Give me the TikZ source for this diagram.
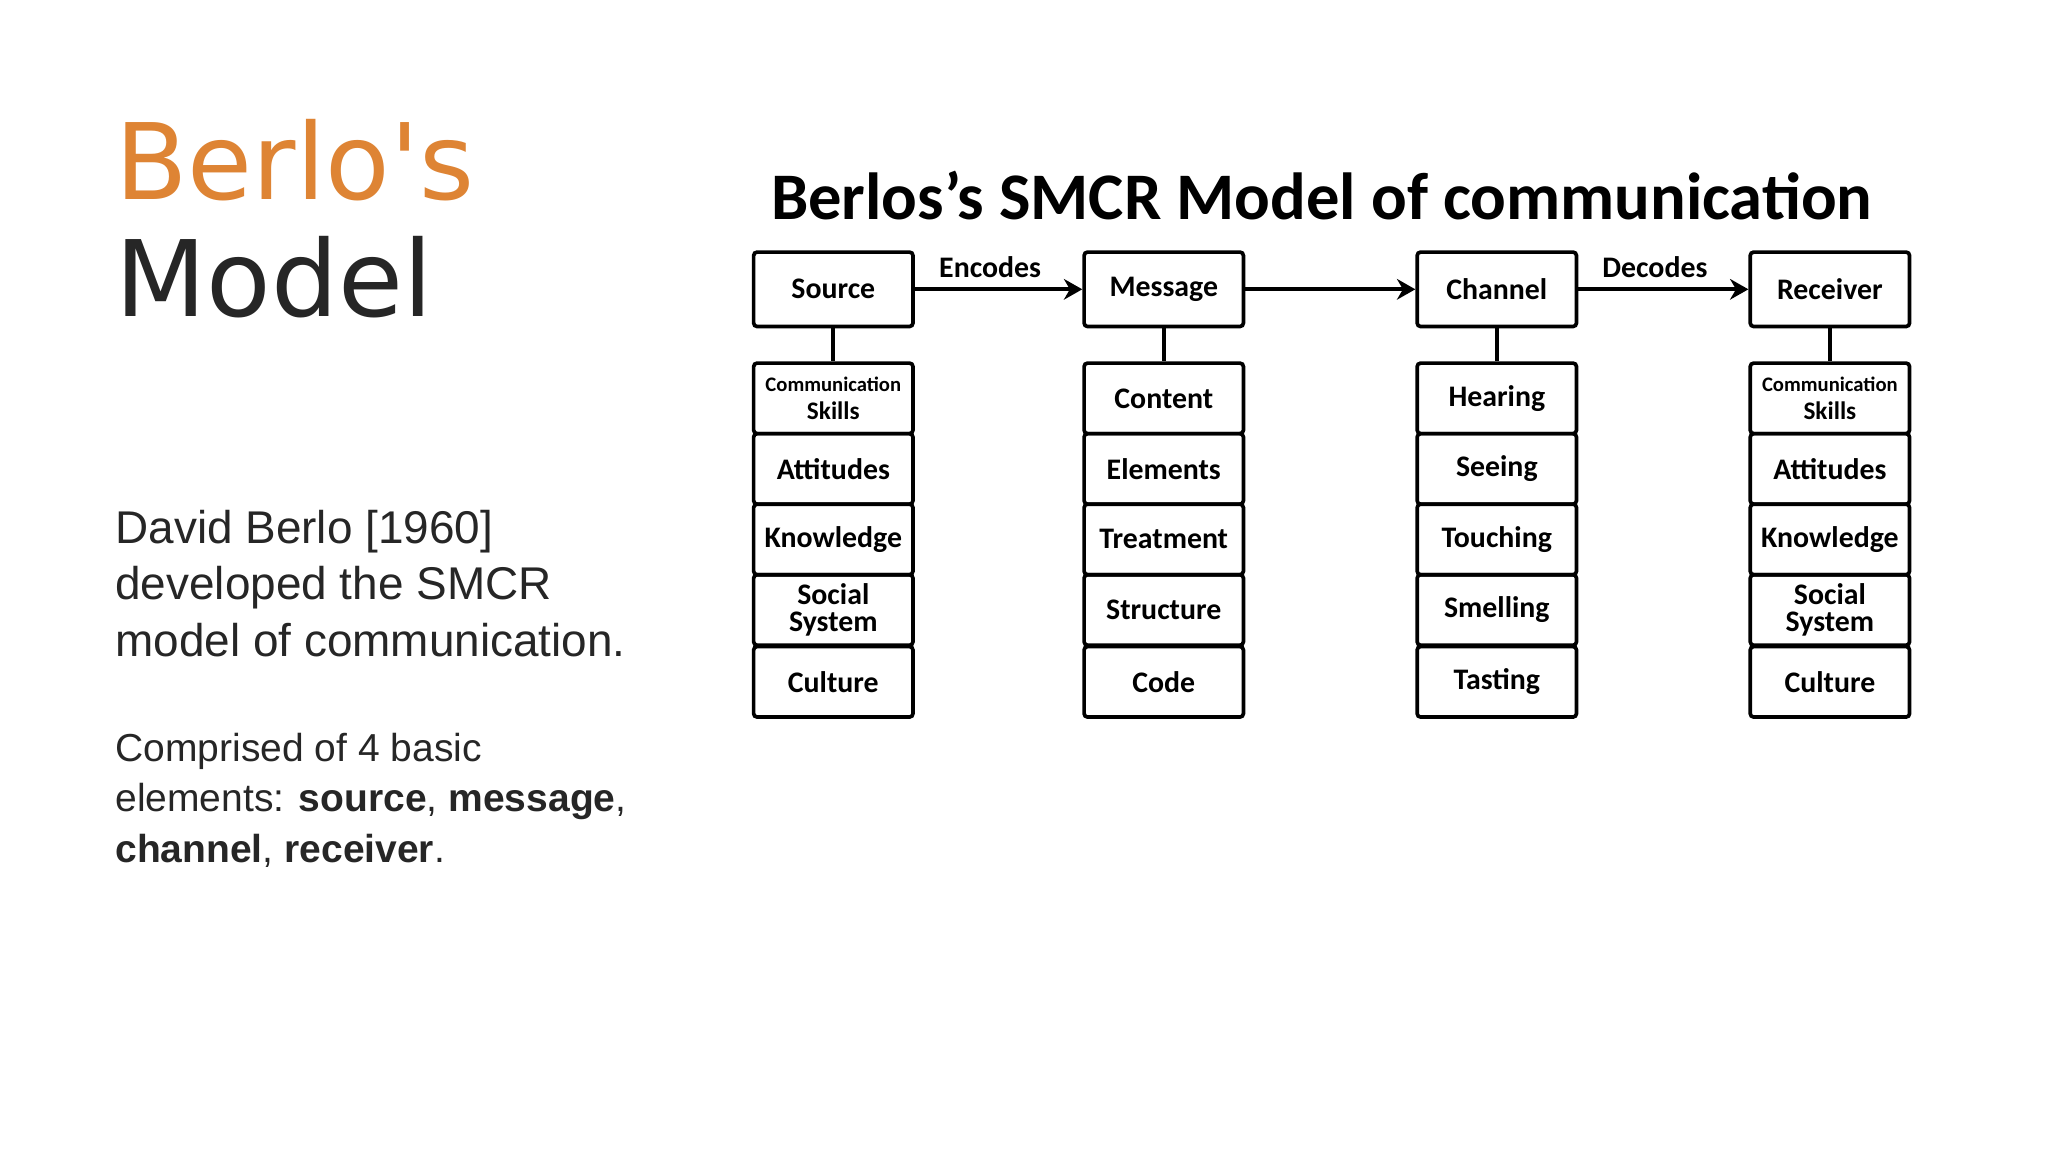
\documentclass[tikz,border=0pt]{standalone}
\usepackage{fontspec}
\setmainfont{Liberation Sans}
\newfontfamily\headfont{DejaVu Sans}
\newfontfamily\boxfont{Carlito}
\usetikzlibrary{arrows.meta}
\definecolor{orng}{RGB}{222,132,52}
\definecolor{dark}{RGB}{38,38,38}
\tikzset{
  cell/.style={draw=black,line width=1.6pt,rounded corners=1.5pt,minimum width=2.44cm,font=\boxfont\bfseries\fontsize{13}{12}\selectfont,align=center,inner sep=0pt},
  top/.style={cell,minimum height=1.14cm},
  sub/.style={cell,minimum height=1.08cm},
  conn/.style={line width=1.6pt},
  flow/.style={line width=1.8pt,-{Stealth[length=8pt,width=9pt]}},
  lbl/.style={font=\boxfont\bfseries\fontsize{13}{12}\selectfont,anchor=south}
}
\begin{document}
\begin{tikzpicture}[x=0.02cm,y=-0.02cm]
\useasboundingbox (0,0) rectangle (1568,882);
\fill[white] (0,0) rectangle (1568,882);
\node[anchor=base west,inner sep=0,text=orng,font=\headfont\fontsize{46}{46}\selectfont] (h1) at (88,153) {Berlo's};
\node[anchor=base west,inner sep=0,text=dark,font=\headfont\fontsize{46}{46}\selectfont] (h2) at (88,242) {Model};
\node[anchor=north west,inner sep=0,text=dark,align=left,font=\fontsize{20}{24.7}\selectfont] (p1) at (88,390) {David Berlo [1960]\\developed the SMCR\\model of communication.};
\node[anchor=north west,inner sep=0,text=dark,align=left,font=\fontsize{17}{22}\selectfont] (p2) at (88,561) {Comprised of 4 basic\\elements: \textbf{source}, \textbf{message},\\\textbf{channel}, \textbf{receiver}.};
\node[font=\boxfont\bfseries\fontsize{29}{29}\selectfont] (title) at (1012,150) {Berlos’s SMCR Model of communication};
% top boxes
\node[top] (S) at (638,221.5) {Source};
\node[top] (M) at (891,221.5) {Message};
\node[top] (C) at (1146,221.5) {Channel};
\node[top] (R) at (1401,221.5) {Receiver};
\draw[flow] (S) -- node[lbl,pos=0.45,yshift=1pt]{Encodes} (M);
\draw[flow] (M) -- (C);
\draw[flow] (C) -- node[lbl,pos=0.45,yshift=1pt]{Decodes} (R);
% columns
\foreach \col/\x/\a/\b/\c/\d/\e in {
  s/638/{\fontsize{9}{10}\selectfont Communication\\\fontsize{11}{11}\selectfont Skills}/Attitudes/Knowledge/{Social\\System}/Culture,
  m/891/Content/Elements/Treatment/Structure/Code,
  c/1146/Hearing/Seeing/Touching/Smelling/Tasting,
  r/1401/{\fontsize{9}{10}\selectfont Communication\\\fontsize{11}{11}\selectfont Skills}/Attitudes/Knowledge/{Social\\System}/Culture}{
  \node[sub] (\col1) at (\x,305) {\a};
  \node[sub] (\col2) at (\x,359) {\b};
  \node[sub] (\col3) at (\x,413) {\c};
  \node[sub] (\col4) at (\x,467) {\d};
  \node[sub] (\col5) at (\x,522) {\e};
}
\draw[conn] (S) -- (s1);
\draw[conn] (M) -- (m1);
\draw[conn] (C) -- (c1);
\draw[conn] (R) -- (r1);
\end{tikzpicture}
\end{document}
